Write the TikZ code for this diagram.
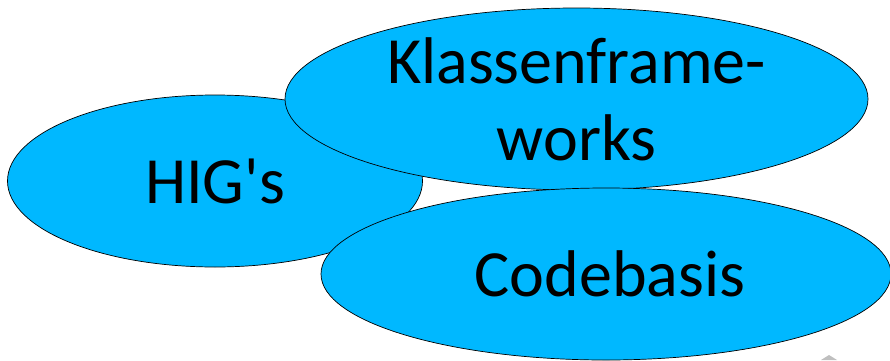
\documentclass[tikz,border=0pt]{standalone}
\usepackage{fontspec}
\setmainfont{Carlito}[Ligatures=TeXOff]
\usetikzlibrary{shapes.geometric}
\definecolor{blob}{RGB}{0,184,255}
\begin{document}
\begin{tikzpicture}[x=1pt,y=1pt,
  blobstyle/.style={ellipse,draw=black,line width=0.7pt,fill=blob,inner sep=0pt,
    font=\fontsize{66}{77}\selectfont,align=center}]
\useasboundingbox (0,0) rectangle (890,360);
\node[blobstyle,minimum width=415,minimum height=172] (hig) at (215,179) {HIG's};
\node[blobstyle,minimum width=583,minimum height=182] (kf) at (576.5,261) {Klassenframe-\\works};
\node[blobstyle,minimum width=570,minimum height=172] (cb) at (606,86) {\hspace*{8pt}Codebasis};
\fill[gray!50] (821,0) -- (829,5) -- (837,0) -- cycle;
\end{tikzpicture}
\end{document}
